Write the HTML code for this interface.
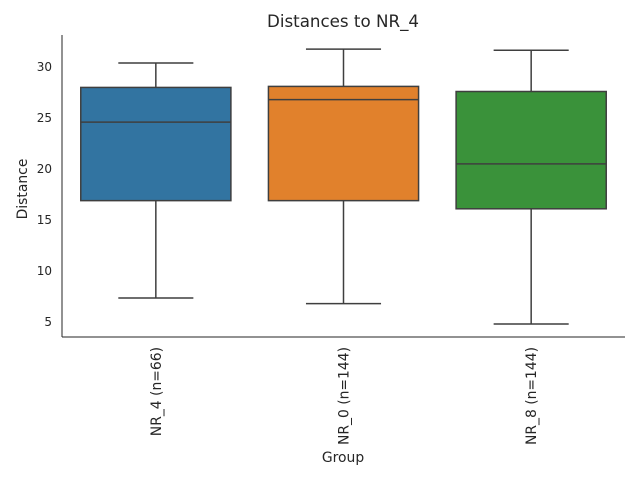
<!DOCTYPE html>
<html><head><meta charset="utf-8"><style>
body{margin:0;background:#fff;}
svg{display:block;font-family:"DejaVu Sans","Liberation Sans",sans-serif;}
</style></head><body>
<svg id="chart" width="640" height="480">
<text x="343" y="27" text-anchor="middle" font-size="16.7" fill="#262626">Distances to NR_4</text>
<text x="27" y="189" text-anchor="middle" font-size="13.9" fill="#262626" transform="rotate(-90 27 189)">Distance</text>
<text x="343" y="462" text-anchor="middle" font-size="13.9" fill="#262626">Group</text>
<g id="boxes"></g>
<g id="axes"></g>
</svg>
<script>
const categories=["NR_4 (n=66)","NR_0 (n=144)","NR_8 (n=144)"];
const whiskerLow=[7.35,6.8,4.8];
const q1=[16.9,16.9,16.1];
const medians=[24.6,26.8,20.5];
const q3=[28.0,28.1,27.6];
const whiskerHigh=[30.4,31.75,31.65];
const yTicks=[5,10,15,20,25,30];
const colors=["#3274a1","#e1812c","#3a923a"];
const L=62,R=625,T=35,B=337,yMin=3.53,yMax=33.14;
const y=v=>B-(v-yMin)/(yMax-yMin)*(B-T);
const band=(R-L)/categories.length;
const xc=i=>L+band*(i+0.5);
const NS="http://www.w3.org/2000/svg";
function mk(tag,attrs,parent){const e=document.createElementNS(NS,tag);for(const k in attrs)e.setAttribute(k,attrs[k]);parent.appendChild(e);return e;}
const gb=document.getElementById('boxes'),ga=document.getElementById('axes');
const bw=band*0.8;
categories.forEach((c,i)=>{
  const cx=xc(i),st={stroke:"#3f3f3f","stroke-width":1.5};
  const w1=mk('line',Object.assign({x1:cx,x2:cx,y1:y(q3[i]),y2:y(whiskerHigh[i])},st),gb);
  
  
  const w2=mk('line',Object.assign({x1:cx,x2:cx,y1:y(q1[i]),y2:y(whiskerLow[i])},st),gb);
  
  
  const c1=mk('line',Object.assign({x1:cx-bw/4,x2:cx+bw/4,y1:y(whiskerHigh[i]),y2:y(whiskerHigh[i])},st),gb);
  
  
  const c2=mk('line',Object.assign({x1:cx-bw/4,x2:cx+bw/4,y1:y(whiskerLow[i]),y2:y(whiskerLow[i])},st),gb);
  
  
  const b=mk('rect',Object.assign({x:cx-bw/2,y:y(q3[i]),width:bw,height:y(q1[i])-y(q3[i]),fill:colors[i]},st),gb);
  
  
  const m=mk('line',Object.assign({x1:cx-bw/2,x2:cx+bw/2,y1:y(medians[i]),y2:y(medians[i])},st),gb);
  
  
  const t=mk('text',{x:0,y:0,"font-size":13.9,fill:"#262626","text-anchor":"end",transform:`translate(${cx+5},347) rotate(-90)`},ga);
  t.textContent=c;
  
  
});
yTicks.forEach(v=>{
  const t=mk('text',{x:52,y:y(v)+4,"font-size":12,fill:"#262626","text-anchor":"end"},ga);
  t.textContent=v;
  
  
});
const ax=mk('line',{x1:L,x2:L,y1:T,y2:B,stroke:"#262626","stroke-width":1},ga);


const bx=mk('line',{x1:L,x2:R,y1:B,y2:B,stroke:"#262626","stroke-width":1},ga);


</script>
</body></html>
